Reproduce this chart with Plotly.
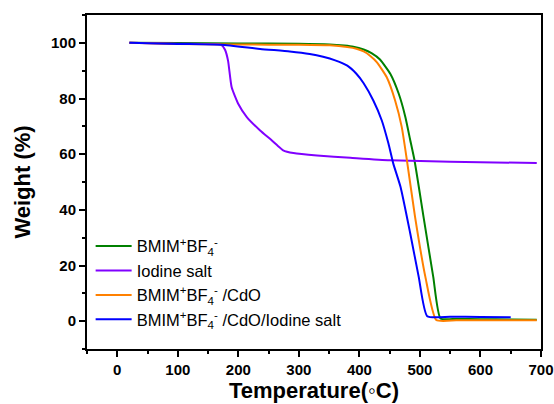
import plotly.graph_objects as go

# Series data (Temperature in °C, Weight in %)
green_T = [20, 100, 200, 300, 351, 375, 390, 407, 420, 434, 451, 465, 476, 484, 491, 506, 522, 534, 560, 600, 650, 693]
green_W = [100, 99.9, 99.8, 99.7, 99.4, 99.0, 98.6, 97.6, 96.3, 94.0, 88.9, 81.7, 73.3, 65, 57.8, 37.4, 15.9, 1.0, 0.8, 0.7, 0.6, 0.5]

purple_T = [20, 100, 165, 172, 178, 183, 189, 200, 214, 236, 255, 265, 274, 291, 330, 385, 450, 550, 693]
purple_W = [100, 99.7, 99.5, 99.3, 97.5, 93.6, 84, 78, 73.3, 68.5, 65, 63, 61.4, 60.4, 59.5, 58.7, 57.8, 57.3, 56.8]

orange_T = [20, 100, 200, 300, 351, 380, 395, 407, 418, 429, 445, 459, 470, 478.5, 492, 509, 527, 560, 600, 650, 693]
orange_W = [100, 99.6, 99.4, 99.3, 99.1, 98.5, 97.9, 96.9, 95.3, 93, 87.7, 79.3, 69.7, 57.8, 37.4, 15.9, 0.4, 0.3, 0.3, 0.3, 0.3]

blue_T = [20, 100, 172, 236, 285, 318, 340, 360, 380, 395, 407, 423, 437, 448, 456, 468, 484, 498, 512, 550, 600, 650]
blue_W = [100, 99.6, 99.3, 97.8, 96.9, 96.0, 95.0, 93.7, 91.8, 88.9, 85.5, 79.3, 72.1, 63.8, 56.6, 48.2, 31.5, 15.9, 1.8, 1.6, 1.5, 1.4]

names = [
    "BMIM<sup>+</sup>BF<sub>4</sub><sup>-</sup>",
    "Iodine salt",
    "BMIM<sup>+</sup>BF<sub>4</sub><sup>-</sup> /CdO",
    "BMIM<sup>+</sup>BF<sub>4</sub><sup>-</sup> /CdO/Iodine salt",
]
colors = ["#008000", "#8000FF", "#FF8000", "#0000FF"]

x_ticks = [0, 100, 200, 300, 400, 500, 600, 700]
y_ticks = [0, 20, 40, 60, 80, 100]

FONT = "Liberation Sans, Arial"

fig = go.Figure()
for T, W, n, c in zip([green_T, purple_T, orange_T, blue_T],
                      [green_W, purple_W, orange_W, blue_W], names, colors):
    fig.add_trace(go.Scatter(x=T, y=W, mode="lines", name=n,
                             line=dict(color=c, width=2, shape="spline", smoothing=0.5)))

axis_common = dict(
    showline=True, linecolor="black", linewidth=2, mirror=True,
    ticks="outside", ticklen=6, tickwidth=1.5, tickcolor="black",
    showgrid=False, zeroline=False, automargin=False,
    tickfont=dict(family=FONT, size=15, color="black", weight="bold"),
)

fig.update_xaxes(range=[-50, 700], tickvals=x_ticks,
                 minor=dict(ticks="outside", ticklen=3, dtick=50, tick0=0, tickcolor="black", tickwidth=1.5),
                 **axis_common)
fig.update_yaxes(range=[-10, 110], tickvals=y_ticks,
                 minor=dict(ticks="outside", ticklen=3, dtick=10, tick0=0, tickcolor="black", tickwidth=1.5),
                 title=dict(text="Weight (%)", standoff=14,
                            font=dict(family=FONT, size=22, color="black", weight="bold")),
                 **axis_common)

# x-axis title placed as annotation so it can sit lower in the margin
fig.add_annotation(text="Temperature(◦C)", xref="paper", yref="paper",
                   x=0.5, y=-0.124, xanchor="center", yanchor="middle", showarrow=False,
                   font=dict(family=FONT, size=22, color="black", weight="bold"))

fig.update_layout(
    width=554, height=404,
    margin=dict(l=87, r=13, t=15, b=55),
    paper_bgcolor="white", plot_bgcolor="white",
    showlegend=True,
    legend=dict(x=0.008, y=0.36, xanchor="left", yanchor="top",
                bgcolor="rgba(0,0,0,0)", tracegroupgap=0, itemwidth=36,
                font=dict(family=FONT, size=16.5, color="black")),
)

fig.write_html("out.html")
